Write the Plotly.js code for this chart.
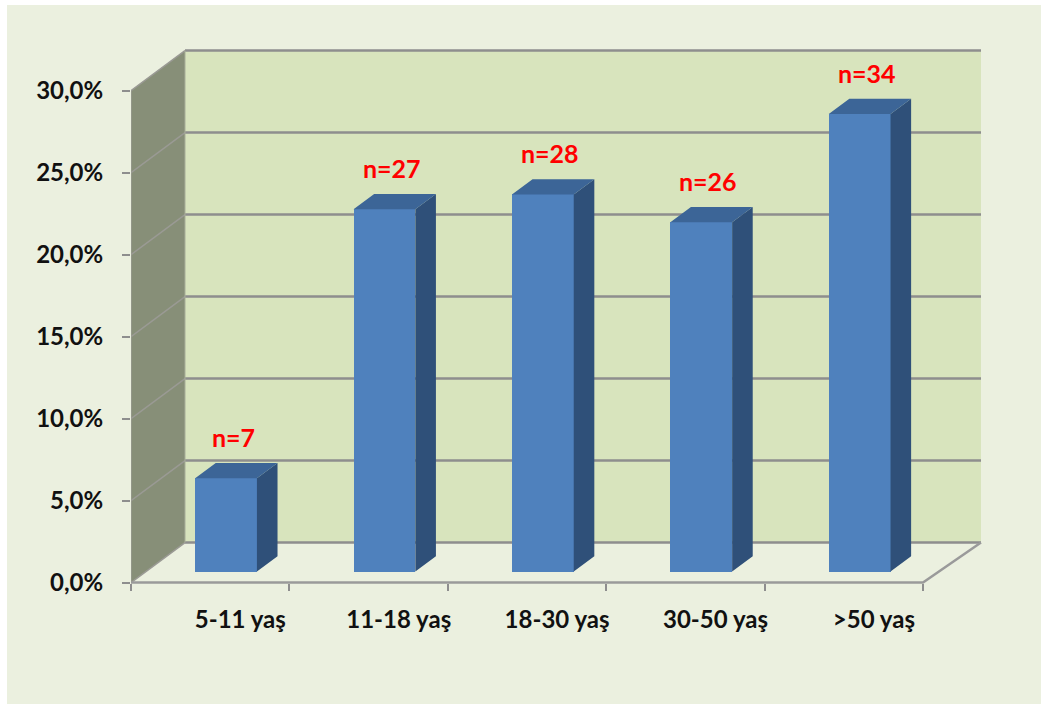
<!DOCTYPE html>
<html>
<head>
<meta charset="utf-8">
<script src="https://cdn.plot.ly/plotly-3.0.1.min.js"></script>
<style>
html,body{margin:0;padding:0;background:#ffffff;}
#chart{width:1041px;height:704px;}
</style>
</head>
<body>
<div id="chart"></div>
<script>
// ---- data ----
const categories = ['5-11 yaş', '11-18 yaş', '18-30 yaş', '30-50 yaş', '>50 yaş'];
const percents = [5.7, 22.1, 23.0, 21.3, 27.9];
const counts = [7, 27, 28, 26, 34];
const yTicks = [0, 5, 10, 15, 20, 25, 30];
const yTickText = yTicks.map(t => t.toFixed(1).replace('.', ',') + '%');

// ---- 3D look (style constants, in axis units) ----
const PXU = 158.4;          // px per category slot
const DX = 54 / PXU;        // wall depth (x) at left
const DXR = 58 / PXU;       // wall depth (x) at right
const DY = 2.44;            // wall depth (y, in %)
const BAR_W = 0.39;         // bar width
const BAR_OFFX = 0.10;      // bar front face shift (depth)
const BAR_OFFY = 0.67;
const BAR_DX = 0.13;        // bar depth
const BAR_DY = 0.93;
const LABEL_SHIFT = 0.19;   // category labels sit at mid depth
const N_OFFY = 2.5;         // n= label above bar top
const nCat = categories.length;
const yTop = yTicks[yTicks.length - 1];

const xs = categories.map((_, i) => i);
const frontX = xs.map(x => x + BAR_OFFX);

// bar front faces
const front = {
  type: 'bar', x: frontX, y: percents, base: BAR_OFFY, width: BAR_W,
  marker: {color: '#4F81BD', line: {width: 0}},
  hoverinfo: 'skip', showlegend: false
};

// top & side faces
const topX = [], topY = [], sideX = [], sideY = [];
percents.forEach((v, i) => {
  const xl = frontX[i] - BAR_W / 2, xr = frontX[i] + BAR_W / 2;
  const t = BAR_OFFY + v;
  topX.push(xl, xr, xr + BAR_DX, xl + BAR_DX, xl, null);
  topY.push(t, t, t + BAR_DY, t + BAR_DY, t, null);
  sideX.push(xr, xr, xr + BAR_DX, xr + BAR_DX, xr, null);
  sideY.push(BAR_OFFY, t, t + BAR_DY, BAR_OFFY + BAR_DY, BAR_OFFY, null);
});
const tops = {type: 'scatter', mode: 'lines', x: topX, y: topY, fill: 'toself',
  fillcolor: '#3C6597', line: {width: 0, color: '#3C6597'}, hoverinfo: 'skip', showlegend: false};
const sides = {type: 'scatter', mode: 'lines', x: sideX, y: sideY, fill: 'toself',
  fillcolor: '#2F5079', line: {width: 0, color: '#2F5079'}, hoverinfo: 'skip', showlegend: false};
const dummy = {type: 'scatter', x: [], y: [], xaxis: 'x2', yaxis: 'y', hoverinfo: 'skip', showlegend: false};

// ---- walls, floor, grid ----
const gridCol = '#8E8E8E';
const shapes = [];
const W = 854, H = 551, L = 131, T = 48;
// outer light background
shapes.push({type: 'rect', xref: 'paper', yref: 'paper', layer: 'below',
  x0: (7 - L) / W, x1: (1045 - L) / W, y0: -(704 + 4 - T - H) / H, y1: (T + H - 5) / H,
  fillcolor: '#EBF0DF', line: {width: 0}});
// floor
shapes.push({type: 'path', xref: 'x', yref: 'y', layer: 'below',
  path: `M${-0.5},0 L${nCat - 0.5},0 L${nCat - 0.5 + DXR},${DY} L${-0.5 + DX},${DY} Z`,
  fillcolor: '#EBF0DF', line: {width: 0}});
// back wall
shapes.push({type: 'rect', xref: 'x', yref: 'y', layer: 'below',
  x0: -0.5 + DX, x1: nCat - 0.5 + DXR, y0: DY, y1: yTop + DY,
  fillcolor: '#D8E4BD', line: {width: 0}});
// left wall
shapes.push({type: 'path', xref: 'x', yref: 'y', layer: 'below',
  path: `M${-0.5},0 L${-0.5},${yTop} L${-0.5 + DX},${yTop + DY} L${-0.5 + DX},${DY} Z`,
  fillcolor: '#878F78', line: {width: 0}});
// gridlines on back wall and left wall
yTicks.forEach(t => {
  shapes.push({type: 'line', xref: 'x', yref: 'y', layer: 'below',
    x0: -0.5 + DX, x1: nCat - 0.5 + DXR, y0: t + DY, y1: t + DY,
    line: {color: gridCol, width: 2.5}});
  shapes.push({type: 'line', xref: 'x', yref: 'y', layer: 'below',
    x0: -0.5, x1: -0.5 + DX, y0: t, y1: t + DY,
    line: {color: '#9A9A94', width: 1.5}});
});
// floor front & right edge
shapes.push({type: 'path', xref: 'x', yref: 'y', layer: 'below',
  path: `M${-0.5},0 L${nCat - 0.5},0 L${nCat - 0.5 + DXR},${DY}`,
  line: {color: '#9A9A9A', width: 2.5}});
// left wall front edge
shapes.push({type: 'line', xref: 'x', yref: 'y', layer: 'below',
  x0: -0.5, x1: -0.5, y0: 0, y1: yTop, line: {color: '#9C9C96', width: 1.2}});
// left wall back edge
shapes.push({type: 'line', xref: 'x', yref: 'y', layer: 'below',
  x0: -0.5 + DX, x1: -0.5 + DX, y0: DY, y1: yTop + DY, line: {color: '#A8AE9A', width: 1}});

// n labels
const annotations = counts.map((n, i) => ({
  x: frontX[i] + 0.045, y: BAR_OFFY + percents[i] + N_OFFY, xref: 'x', yref: 'y',
  text: 'n=' + n, showarrow: false, xanchor: 'center', yanchor: 'middle',
  font: {family: 'Lato, Open Sans, sans-serif', size: 25, color: '#FF0000', weight: 'bold'}
}));

const axisFont = {family: 'Lato, Open Sans, sans-serif', size: 24, color: '#111111', weight: 'bold'};
const xRange = [-0.5, -0.5 + W / PXU];
const xPos = (T + H - 583) / H;

const layout = {
  width: 1041, height: 704,
  margin: {l: L, r: 1041 - L - W, t: T, b: 704 - T - H},
  paper_bgcolor: '#FFFFFF', plot_bgcolor: 'rgba(0,0,0,0)',
  separators: ',.',
  showlegend: false,
  bargap: 0,
  xaxis: {range: xRange, anchor: 'free', position: xPos,
    tickvals: categories.map((_, i) => i - 0.5).concat([nCat - 0.5]),
    ticks: 'outside', ticklen: 7, tickwidth: 2, tickcolor: '#8E8E8E',
    showticklabels: false, showgrid: false, zeroline: false, showline: false, fixedrange: true},
  xaxis2: {range: xRange, overlaying: 'x', anchor: 'free', position: xPos, side: 'bottom',
    tickmode: 'array', tickvals: xs.map(x => x + LABEL_SHIFT), ticktext: categories,
    ticks: '', ticklabelstandoff: 20, tickfont: axisFont,
    showgrid: false, zeroline: false, showline: false, fixedrange: true},
  yaxis: {range: [-1, -1 + H / 16.4],
    tickmode: 'array', tickvals: yTicks, ticktext: yTickText,
    ticks: 'outside', ticklen: 8, tickwidth: 2, tickcolor: '#8E8E8E',
    ticklabelstandoff: 14, tickfont: axisFont,
    showgrid: false, zeroline: false, showline: false, fixedrange: true},
  shapes: shapes,
  annotations: annotations
};

Plotly.newPlot('chart', [front, sides, tops, dummy], layout, {displayModeBar: false, staticPlot: true});
</script>
</body>
</html>
